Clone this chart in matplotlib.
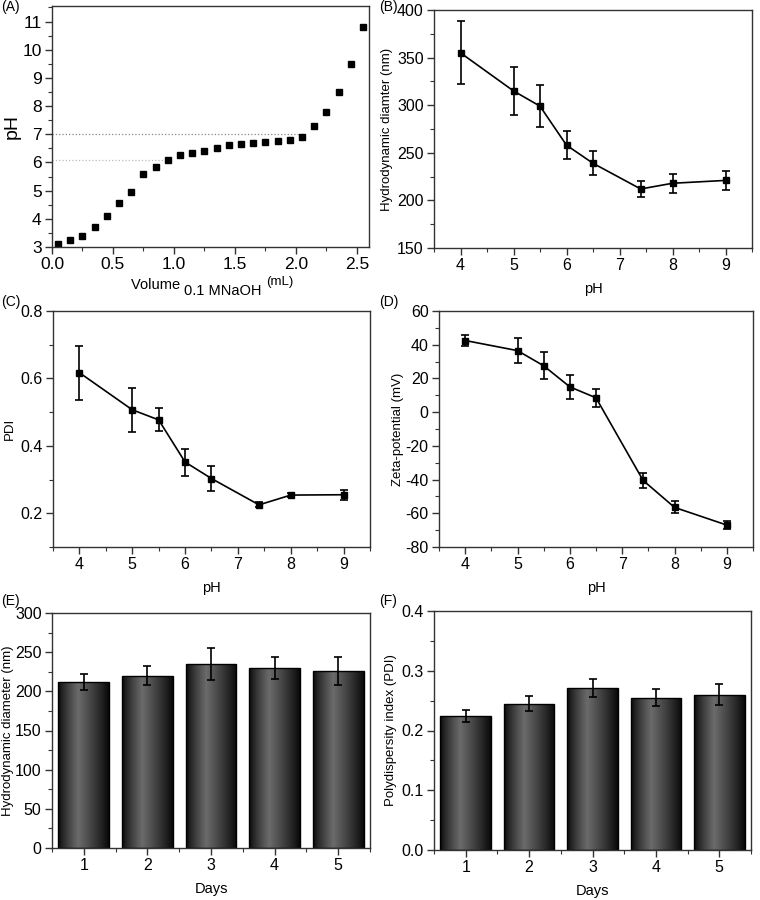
import numpy as np
import matplotlib
matplotlib.use("Agg")
import matplotlib.pyplot as plt
from matplotlib.ticker import MultipleLocator
from matplotlib.colors import LinearSegmentedColormap

plt.rcParams['font.family'] = ['Liberation Sans', 'DejaVu Sans']
plt.rcParams['axes.unicode_minus'] = False

# (A) titration curve
vol = [0.05, 0.15, 0.25, 0.35, 0.45, 0.55, 0.65, 0.75, 0.85, 0.95, 1.05, 1.15, 1.25,
       1.35, 1.45, 1.55, 1.65, 1.75, 1.85, 1.95, 2.05, 2.15, 2.25, 2.35, 2.45, 2.55]
ph_titr = [3.1, 3.25, 3.4, 3.7, 4.1, 4.55, 4.95, 5.58, 5.85, 6.1, 6.25, 6.35, 6.4,
           6.5, 6.62, 6.65, 6.68, 6.72, 6.75, 6.8, 6.9, 7.3, 7.8, 8.5, 9.5, 10.8]

# (B)-(D) vs pH
ph = [4, 5, 5.5, 6, 6.5, 7.4, 8, 9]
size_ph = [355, 315, 299, 258, 239, 212, 218, 221]
size_ph_err = [33, 25, 22, 15, 12.5, 8, 10, 10]
pdi_ph = [0.617, 0.507, 0.477, 0.352, 0.303, 0.225, 0.254, 0.255]
pdi_ph_err = [0.08, 0.065, 0.034, 0.04, 0.037, 0.007, 0.005, 0.015]
zeta = [42.5, 36.5, 27.5, 15, 8.5, -40.5, -56.5, -67]
zeta_err = [3.5, 7.5, 8, 7, 5.5, 4.5, 3.5, 2.5]

# (E)-(F) stability over days
days = [1, 2, 3, 4, 5]
size_day = [212, 220, 235, 230, 226]
size_day_err = [10, 12, 20, 14, 18]
pdi_day = [0.225, 0.245, 0.271, 0.255, 0.26]
pdi_day_err = [0.01, 0.012, 0.015, 0.014, 0.018]

W, H = 760, 900
TICK_FS = 11.5
XLAB_FS = 10.5
YLAB_FS = 9.5

fig = plt.figure(figsize=(W / 100, H / 100), dpi=100)


def make_ax(l, r, t, b):
    return fig.add_axes([l / W, 1 - b / H, (r - l) / W, (b - t) / H])


def style(ax, xmaj, xmin, ymaj, ymin, fs=TICK_FS):
    for s in ax.spines.values():
        s.set_color('#333333')
        s.set_linewidth(1.0)
    ax.xaxis.set_major_locator(MultipleLocator(xmaj))
    ax.xaxis.set_minor_locator(MultipleLocator(xmin))
    ax.yaxis.set_major_locator(MultipleLocator(ymaj))
    ax.yaxis.set_minor_locator(MultipleLocator(ymin))
    ax.tick_params(which='major', direction='out', length=5, width=1,
                   color='#333333', labelsize=fs, top=False, right=False, pad=2.5)
    ax.tick_params(which='minor', direction='out', length=3, width=0.8,
                   color='#333333', top=False, right=False)


gcmap = LinearSegmentedColormap.from_list('bargrad', ['#080808', '#6a6a6a'])
prof = np.concatenate([np.linspace(0, 1, 40) ** 0.8, np.linspace(1, 0, 60) ** 0.9])


def gradient_bars(ax, x, y, yerr):
    bars = ax.bar(x, y, width=0.8, color='none', edgecolor='black', linewidth=1, zorder=2)
    for b in bars:
        x0, y0 = b.get_x(), b.get_y()
        im = ax.imshow(prof[None, :], cmap=gcmap, aspect='auto', vmin=0, vmax=1,
                       extent=[x0, x0 + b.get_width(), y0, y0 + b.get_height()],
                       zorder=1, interpolation='bilinear')
        im.set_clip_path(b)
    ax.errorbar(x, y, yerr=yerr, fmt='none', ecolor='black', elinewidth=1.2,
                capsize=3, capthick=1.2, zorder=3)


def line_err(ax, x, y, yerr):
    ax.errorbar(x, y, yerr=yerr, fmt='-s', color='black', ms=4.5,
                lw=1.2, elinewidth=1.2, capsize=3, capthick=1.2)


# (A)
ax = make_ax(52, 369, 6, 247)
ax.plot([0, 2.05], [7, 7], ls=':', color='#888888', lw=0.9)
ax.plot([0, 0.95], [6.1, 6.1], ls=':', color='#bbbbbb', lw=0.9)
ax.plot(vol, ph_titr, 's', color='black', ms=4.5)
ax.set_xlim(0, 2.6)
ax.set_ylim(3, 11.55)
style(ax, 0.5, 0.25, 1, 0.5, fs=12.5)
ax.set_ylabel('pH', fontsize=14, labelpad=1)
t1 = ax.text(0.25, -0.175, 'Volume ', transform=ax.transAxes, fontsize=10.5,
             ha='left', va='baseline')
t2 = ax.annotate('0.1 MNaOH ', xy=(1, 0), xycoords=t1, xytext=(0, -4),
                 textcoords='offset points', fontsize=10.5, va='bottom', ha='left')
ax.annotate('(mL)', xy=(1, 0), xycoords=t2, xytext=(0, 7),
            textcoords='offset points', fontsize=9.5, va='bottom', ha='left')

# (B)
ax = make_ax(434, 752, 10, 248)
line_err(ax, ph, size_ph, size_ph_err)
ax.set_xlim(3.5, 9.5)
ax.set_ylim(150, 400)
style(ax, 1, 0.5, 50, 25)
ax.set_xlabel('pH', fontsize=XLAB_FS, labelpad=6)
ax.set_ylabel('Hydrodynamic diamter (nm)', fontsize=YLAB_FS, labelpad=3)

# (C)
ax = make_ax(53, 370, 311, 547)
line_err(ax, ph, pdi_ph, pdi_ph_err)
ax.set_xlim(3.5, 9.5)
ax.set_ylim(0.1, 0.8)
style(ax, 1, 0.5, 0.2, 0.1)
ax.set_xlabel('pH', fontsize=XLAB_FS, labelpad=6)
ax.set_ylabel('PDI', fontsize=YLAB_FS, labelpad=3)

# (D)
ax = make_ax(439, 753, 311, 547)
line_err(ax, ph, zeta, zeta_err)
ax.set_xlim(3.5, 9.5)
ax.set_ylim(-80, 60)
style(ax, 1, 0.5, 20, 10)
ax.set_xlabel('pH', fontsize=XLAB_FS, labelpad=6)
ax.set_ylabel('Zeta-potential (mV)', fontsize=YLAB_FS, labelpad=1)

# (E)
ax = make_ax(52, 370, 613, 848)
gradient_bars(ax, days, size_day, size_day_err)
ax.set_xlim(0.5, 5.5)
ax.set_ylim(0, 300)
style(ax, 1, 0.5, 50, 25)
ax.set_xlabel('Days', fontsize=XLAB_FS, labelpad=6)
ax.set_ylabel('Hydrodynamic diameter (nm)', fontsize=YLAB_FS, labelpad=1)

# (F)
ax = make_ax(434, 751, 611, 850)
gradient_bars(ax, days, pdi_day, pdi_day_err)
ax.set_xlim(0.5, 5.5)
ax.set_ylim(0, 0.4)
style(ax, 1, 0.5, 0.1, 0.05)
ax.set_xlabel('Days', fontsize=XLAB_FS, labelpad=6)
ax.set_ylabel('Polydispersity index (PDI)', fontsize=YLAB_FS, labelpad=3)

for lab, px, py in [('(A)', 1, 0), ('(B)', 379, 0), ('(C)', 1, 295),
                    ('(D)', 379, 295), ('(E)', 1, 594), ('(F)', 379, 594)]:
    fig.text(px / W, 1 - py / H, lab, fontsize=10, va='top', ha='left')

fig.savefig('out.png', dpi=100)
